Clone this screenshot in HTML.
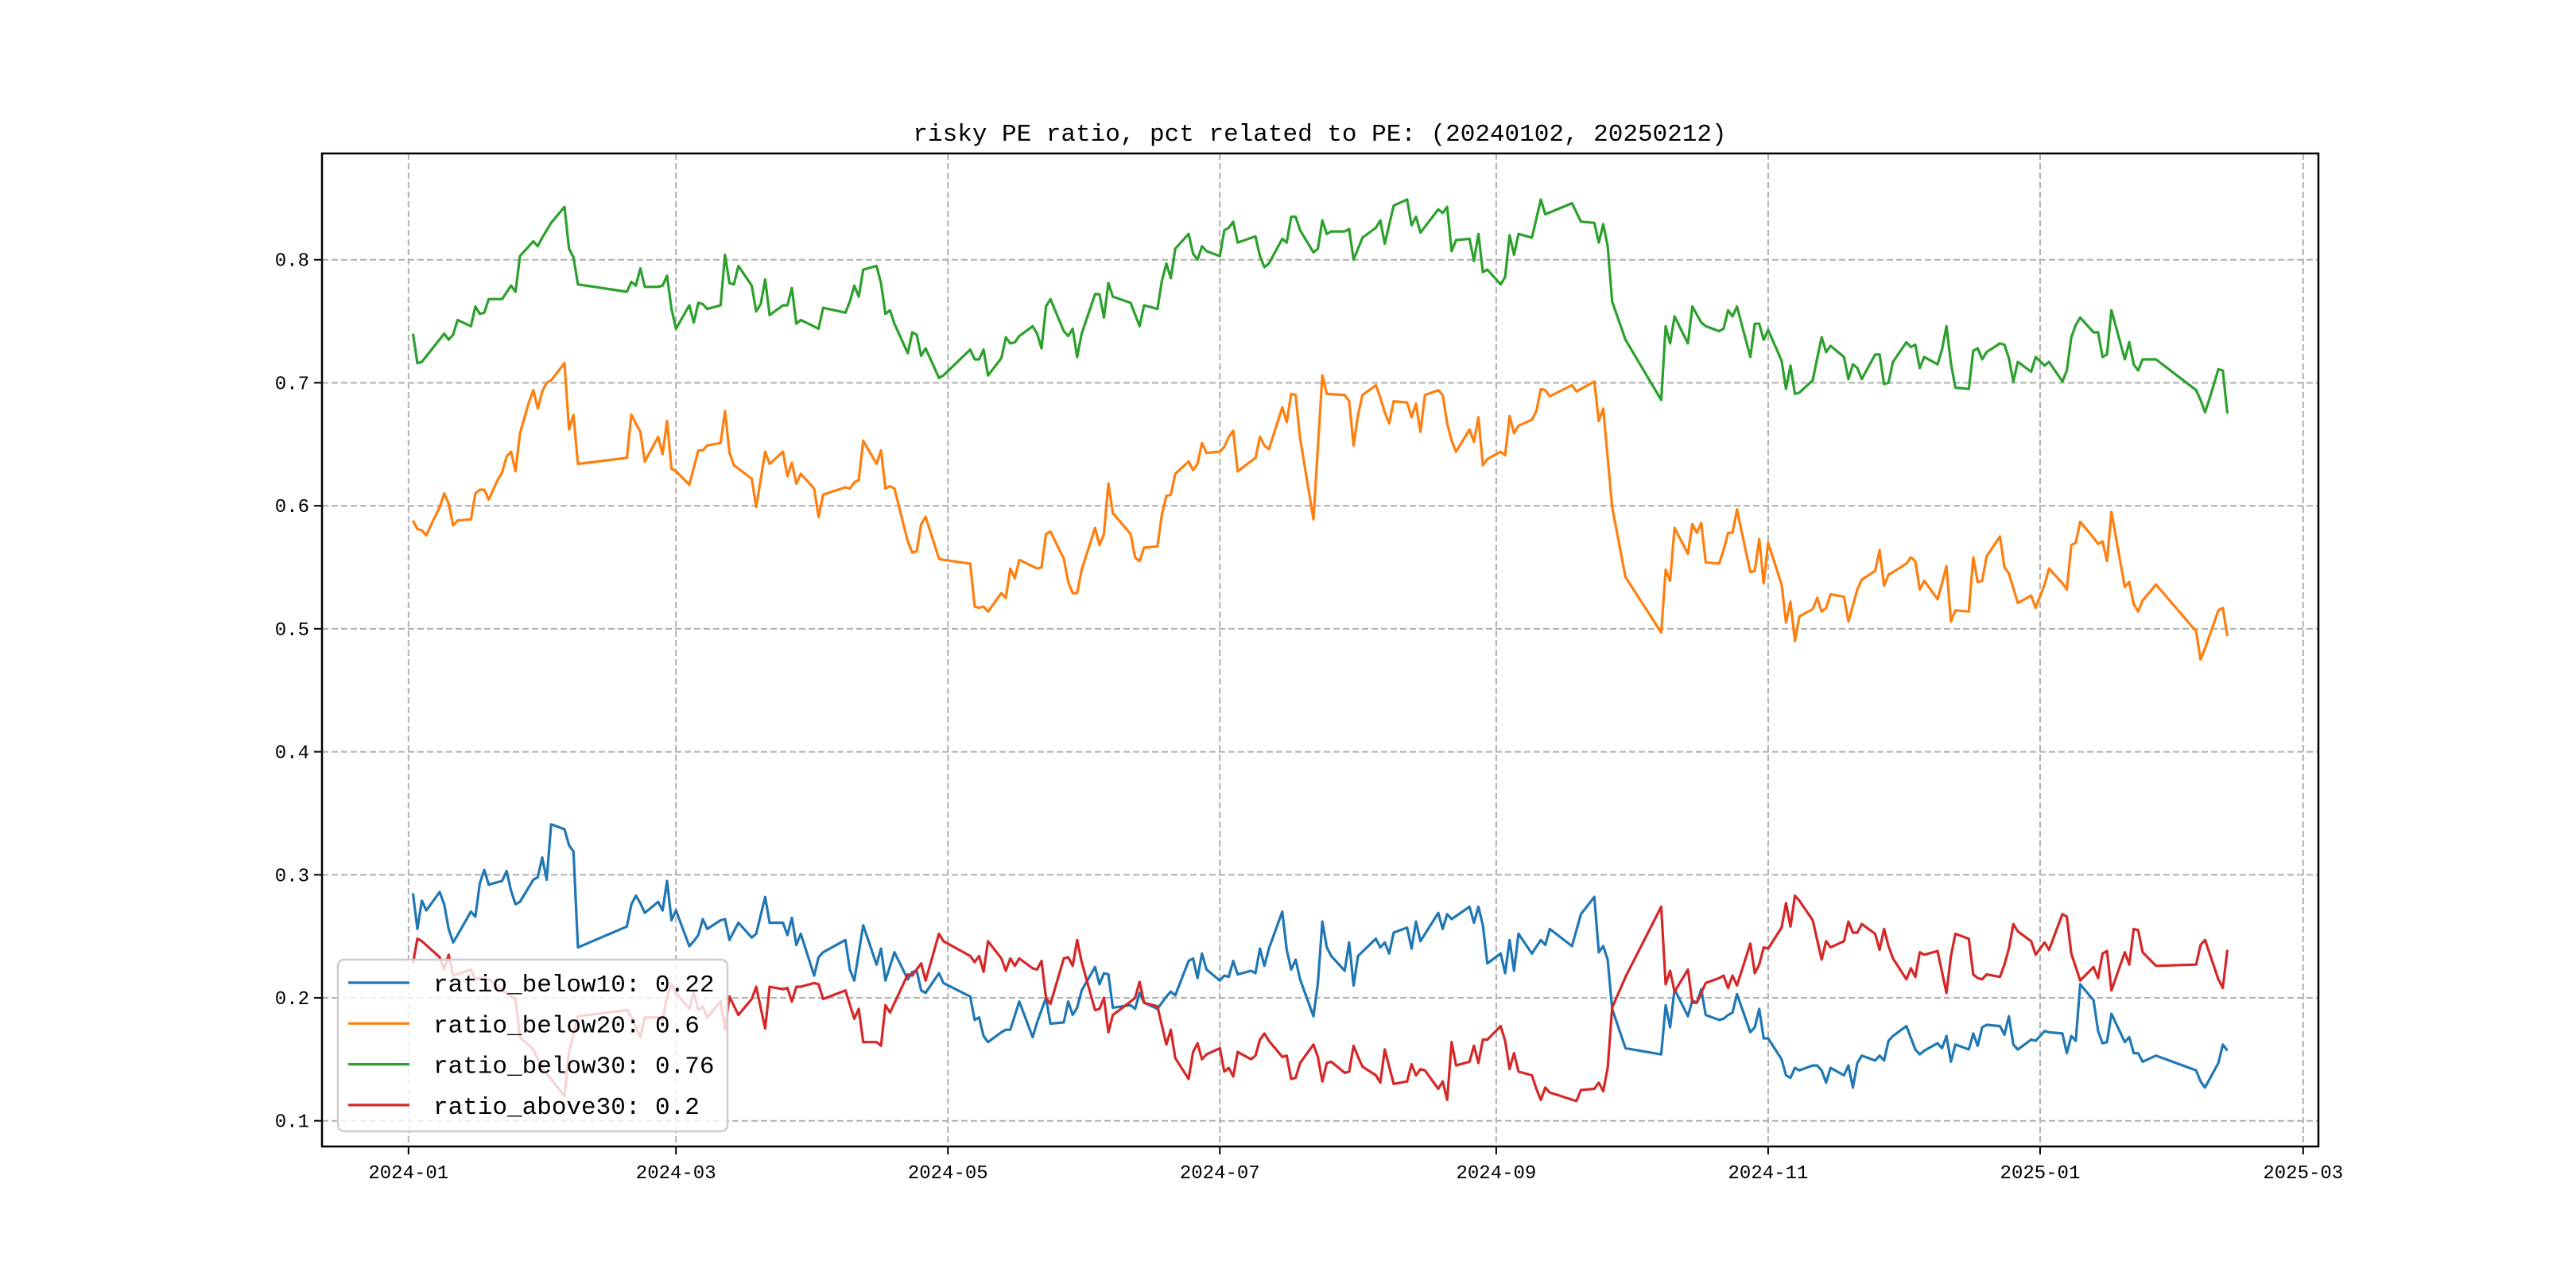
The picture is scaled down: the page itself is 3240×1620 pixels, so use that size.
<!DOCTYPE html>
<html><head><meta charset="utf-8"><style>
html,body{margin:0;padding:0;background:#fff;}
svg{display:block;}
text{font-family:"Liberation Mono","Noto Sans CJK SC",monospace;fill:#000;}
</style></head>
<body>
<svg id="chart" width="3240" height="1620" viewBox="0 0 3240 1620" xmlns="http://www.w3.org/2000/svg">
<rect width="3240" height="1620" fill="#fff"/>
<text x="1660" y="177" font-size="31" text-anchor="middle">risky PE ratio, pct related to PE: (20240102, 20250212)</text>
<g id="grid"></g>
<g id="series"></g>
<rect x="405" y="193" width="2511" height="1249" fill="none" stroke="#000" stroke-width="2.5"/>
<g id="ticks"></g>
<g id="legend"></g>
</svg>
<script>
// data: days since 2024-01-01
const xTickDays = [0,60,121,182,244,305,366,425];
const xTickLabels = ["2024-01","2024-03","2024-05","2024-07","2024-09","2024-11","2025-01","2025-03"];
const yTicks = [0.1,0.2,0.3,0.4,0.5,0.6,0.7,0.8];
const yTickLabels = ["0.1","0.2","0.3","0.4","0.5","0.6","0.7","0.8"];

const below30Days = [1,2,3,8,9,10,11,14,15,16,17,18,21,23,24,25,28,29,30,32,35,36,37,38,49,50,51,52,53,56,57,58,59,60,63,64,65,66,67,70,71,72,73,74,77,78,79,80,81,84,85,86,87,88,92,93,98,99,100,101,102,105,106,107,108,109,112,113,114,115,116,119,120,126,127,128,129,
130,133,134,135,136,137,140,141,142,143,144,147,148,149,150,151,154,155,156,157,158,162,164,165,168,169,170,171,172,175,176,177,178,179,182,183,184,185,186,190,191,192,193,196,197,198,199,200,203,204,205,206,207,210,211,212,214,217,218,219,221,224,225,226,227,231,232,233,234,235,238,239,240,241,242,245,246,247,248,249,252,254,255,261,263,266,267,268,269,270,273,
281,282,283,284,287,288,290,291,294,295,296,297,298,301,302,303,304,305,308,309,310,311,312,315,316,317,318,319,322,323,324,325,326,329,330,331,332,333,336,337,338,339,340,343,344,345,346,347,350,351,352,353,354,357,358,359,360,361,364,365,367,368,371,372,373,374,375,378,379,380,381,382,385,386,387,388,389,392,401,402,403,404,406,407,408];
const below30Vals = [0.740,0.716,0.717,0.740,0.735,0.739,0.751,0.746,0.762,0.756,0.757,0.768,0.768,0.779,0.774,0.803,0.815,0.811,0.818,0.830,0.843,0.809,0.802,0.780,0.774,0.782,0.779,0.793,0.778,0.778,0.779,0.787,0.760,0.744,0.763,0.749,0.765,0.764,0.760,0.763,0.804,0.781,0.780,0.795,0.779,0.758,0.764,0.784,0.755,0.763,0.763,0.777,0.748,0.751,0.744,0.761,0.757,0.766,0.779,0.770,0.792,0.795,0.781,0.756,0.759,0.748,0.724,0.741,0.739,0.722,0.728,0.704,0.706,0.727,0.719,0.719,0.727,
0.706,0.720,0.737,0.732,0.733,0.738,0.746,0.740,0.728,0.762,0.768,0.742,0.738,0.744,0.721,0.740,0.772,0.772,0.753,0.781,0.770,0.765,0.746,0.763,0.760,0.783,0.797,0.785,0.809,0.821,0.805,0.800,0.811,0.807,0.803,0.824,0.826,0.831,0.814,0.819,0.803,0.794,0.797,0.817,0.814,0.835,0.835,0.824,0.806,0.809,0.832,0.821,0.823,0.823,0.825,0.800,0.818,0.826,0.832,0.813,0.844,0.849,0.828,0.835,0.822,0.841,0.838,0.843,0.807,0.816,0.817,0.799,0.821,0.790,0.792,0.780,0.786,0.820,0.804,0.821,0.818,0.849,0.837,0.846,0.831,0.830,0.814,0.829,0.811,0.766,0.735,
0.686,0.746,0.732,0.754,0.732,0.762,0.749,0.746,0.742,0.744,0.759,0.754,0.762,0.721,0.748,0.748,0.735,0.743,0.718,0.695,0.714,0.691,0.692,0.702,0.720,0.737,0.725,0.730,0.721,0.703,0.715,0.712,0.703,0.723,0.723,0.699,0.700,0.717,0.733,0.729,0.731,0.712,0.721,0.715,0.727,0.746,0.716,0.696,0.695,0.726,0.728,0.719,0.725,0.732,0.731,0.720,0.701,0.717,0.709,0.721,0.714,0.717,0.701,0.710,0.737,0.747,0.753,0.741,0.741,0.721,0.723,0.759,0.719,0.733,0.715,0.710,0.719,0.719,0.694,0.686,0.676,0.687,0.711,0.710,0.675];

const below20Days = [1,2,3,4,5,7,8,9,10,11,14,15,16,17,18,20,21,22,23,24,25,27,28,29,30,31,32,35,36,37,38,49,50,52,53,56,57,58,59,60,63,65,66,67,70,71,72,73,77,78,80,81,84,85,86,87,88,91,92,93,98,99,100,101,102,105,106,107,108,109,112,113,114,115,116,119,120,126,127,128,129,
130,133,134,135,136,137,141,142,143,144,147,148,149,150,151,154,155,156,157,158,162,163,164,165,168,169,170,171,172,175,176,177,178,179,182,183,184,185,186,190,191,192,193,196,197,198,199,200,203,205,206,210,211,212,213,214,217,218,219,220,221,224,225,226,227,228,231,232,233,234,235,238,239,240,241,242,245,246,247,248,249,252,253,254,255,256,261,262,266,267,268,270,273,
281,282,283,284,287,288,289,290,291,294,295,296,297,298,301,302,303,304,305,308,309,310,311,312,315,316,317,318,319,322,323,325,326,329,330,331,332,333,336,337,338,339,340,343,344,345,346,347,350,351,352,353,354,357,358,359,361,364,365,367,368,371,372,373,374,375,378,379,380,381,382,385,386,387,388,389,392,401,402,403,406,407,408];
const below20Vals = [0.588,0.581,0.580,0.576,0.584,0.599,0.610,0.602,0.584,0.588,0.589,0.610,0.613,0.613,0.605,0.621,0.627,0.640,0.644,0.628,0.659,0.684,0.694,0.679,0.693,0.700,0.702,0.716,0.662,0.674,0.634,0.639,0.674,0.660,0.636,0.656,0.642,0.669,0.630,0.628,0.617,0.645,0.645,0.649,0.651,0.677,0.643,0.633,0.622,0.599,0.644,0.634,0.644,0.624,0.635,0.618,0.626,0.614,0.591,0.609,0.615,0.614,0.619,0.621,0.653,0.634,0.645,0.614,0.616,0.614,0.571,0.562,0.563,0.585,0.591,0.557,0.556,0.553,0.518,0.517,0.518,
0.514,0.529,0.525,0.549,0.541,0.556,0.549,0.550,0.577,0.579,0.557,0.538,0.529,0.529,0.548,0.582,0.568,0.577,0.618,0.594,0.577,0.558,0.555,0.566,0.567,0.593,0.608,0.609,0.626,0.636,0.629,0.634,0.651,0.643,0.644,0.648,0.656,0.661,0.628,0.639,0.656,0.649,0.646,0.680,0.668,0.691,0.690,0.655,0.589,0.706,0.691,0.690,0.685,0.649,0.674,0.690,0.698,0.688,0.676,0.667,0.685,0.684,0.672,0.683,0.660,0.690,0.694,0.690,0.667,0.653,0.644,0.662,0.652,0.672,0.633,0.638,0.644,0.641,0.673,0.659,0.665,0.670,0.677,0.695,0.694,0.689,0.698,0.693,0.701,0.669,0.679,0.599,0.542,
0.497,0.548,0.539,0.582,0.561,0.585,0.578,0.586,0.554,0.553,0.564,0.578,0.578,0.597,0.546,0.547,0.573,0.537,0.570,0.536,0.505,0.522,0.490,0.510,0.516,0.525,0.514,0.517,0.528,0.526,0.506,0.532,0.540,0.547,0.564,0.535,0.544,0.546,0.553,0.558,0.555,0.532,0.539,0.524,0.537,0.551,0.506,0.515,0.514,0.558,0.538,0.539,0.559,0.575,0.550,0.545,0.521,0.527,0.517,0.536,0.549,0.537,0.532,0.568,0.570,0.587,0.574,0.569,0.571,0.555,0.595,0.534,0.538,0.520,0.514,0.523,0.536,0.498,0.475,0.484,0.515,0.517,0.494];

const below10Days = [1,2,3,4,7,8,9,10,11,14,15,16,17,18,21,22,23,24,25,28,29,30,31,32,35,36,37,38,49,50,51,52,53,56,57,58,59,60,63,64,65,66,67,70,71,72,74,77,78,80,81,84,85,86,87,88,91,92,93,98,99,100,102,105,106,107,109,112,113,114,115,116,119,120,126,127,128,129,
130,133,134,135,137,140,141,143,144,147,148,149,150,151,154,155,156,157,158,162,163,164,165,168,170,171,172,175,176,177,178,179,182,183,184,185,186,189,190,191,192,193,196,197,198,199,200,203,204,205,206,207,210,211,212,213,217,218,219,220,221,224,225,226,227,231,232,233,234,238,239,240,241,242,245,246,247,248,249,252,254,255,256,261,263,266,267,268,269,270,273,
281,282,283,284,287,288,289,290,291,294,295,296,297,298,301,302,303,304,305,308,309,310,311,312,315,316,317,318,319,322,323,324,325,326,329,330,331,332,333,336,338,339,340,343,344,345,346,347,350,351,352,353,354,357,358,359,360,361,364,365,367,368,371,372,373,374,375,378,379,380,381,382,385,386,387,388,389,392,401,402,403,406,407,408];
const below10Vals = [0.285,0.256,0.279,0.271,0.286,0.276,0.256,0.245,0.251,0.270,0.266,0.293,0.304,0.292,0.295,0.303,0.287,0.276,0.278,0.296,0.298,0.314,0.296,0.341,0.337,0.324,0.319,0.241,0.258,0.276,0.283,0.277,0.269,0.278,0.271,0.295,0.263,0.271,0.242,0.246,0.251,0.264,0.256,0.263,0.264,0.247,0.261,0.249,0.252,0.282,0.261,0.261,0.251,0.265,0.243,0.252,0.218,0.233,0.237,0.247,0.223,0.214,0.259,0.227,0.240,0.214,0.237,0.215,0.221,0.222,0.206,0.204,0.220,0.212,0.201,0.182,0.184,0.169,
0.164,0.172,0.174,0.174,0.197,0.168,0.180,0.200,0.179,0.180,0.197,0.186,0.192,0.206,0.225,0.211,0.220,0.219,0.192,0.194,0.191,0.204,0.196,0.191,0.201,0.205,0.202,0.230,0.232,0.216,0.236,0.223,0.214,0.218,0.217,0.230,0.219,0.222,0.220,0.240,0.226,0.240,0.270,0.239,0.223,0.231,0.215,0.185,0.212,0.262,0.241,0.234,0.222,0.245,0.210,0.234,0.248,0.241,0.245,0.236,0.253,0.257,0.240,0.262,0.246,0.269,0.256,0.268,0.264,0.274,0.261,0.274,0.259,0.228,0.236,0.220,0.247,0.222,0.252,0.236,0.247,0.243,0.256,0.242,0.268,0.282,0.237,0.242,0.231,0.191,0.159,
0.154,0.194,0.176,0.207,0.185,0.198,0.196,0.207,0.186,0.182,0.183,0.186,0.188,0.203,0.172,0.176,0.191,0.167,0.167,0.150,0.137,0.135,0.143,0.141,0.145,0.145,0.141,0.131,0.143,0.137,0.145,0.127,0.147,0.153,0.149,0.153,0.149,0.165,0.169,0.177,0.158,0.154,0.157,0.163,0.159,0.169,0.148,0.162,0.158,0.171,0.161,0.176,0.178,0.177,0.170,0.185,0.162,0.158,0.166,0.165,0.173,0.172,0.171,0.155,0.169,0.165,0.211,0.198,0.173,0.163,0.164,0.187,0.164,0.168,0.155,0.155,0.148,0.153,0.141,0.132,0.127,0.147,0.162,0.157];

const above30Days = [1,2,3,7,8,9,10,14,15,16,18,21,24,25,28,30,35,36,37,38,49,50,52,53,56,57,58,59,60,63,64,65,66,67,70,71,72,74,77,78,80,81,84,85,86,87,88,91,92,93,98,100,101,102,105,106,107,108,112,113,115,116,119,120,126,127,128,129,
130,133,134,135,136,137,140,141,142,143,144,147,148,149,150,151,154,155,156,157,158,162,163,164,165,168,170,171,172,175,176,177,178,179,182,183,184,185,186,189,190,191,192,193,196,197,198,199,200,203,204,205,206,207,210,211,212,213,214,217,218,219,221,224,225,226,227,228,231,232,233,234,235,238,239,240,241,242,245,246,247,248,249,252,253,254,255,256,262,263,266,267,268,269,270,273,
281,282,283,284,287,288,289,291,294,295,296,297,298,301,302,303,304,305,308,309,310,311,312,315,316,317,318,319,322,323,324,325,326,329,330,331,332,333,336,337,338,339,340,343,344,345,346,347,350,351,352,353,354,357,358,359,360,361,364,365,367,368,371,372,373,374,375,378,379,380,381,382,385,386,387,388,389,392,401,402,403,406,407,408];
const above30Vals = [0.228,0.248,0.246,0.233,0.223,0.235,0.218,0.223,0.215,0.216,0.215,0.206,0.199,0.168,0.158,0.143,0.120,0.156,0.170,0.185,0.190,0.184,0.168,0.184,0.184,0.182,0.201,0.211,0.204,0.191,0.204,0.190,0.193,0.184,0.197,0.174,0.201,0.186,0.199,0.209,0.175,0.209,0.207,0.208,0.197,0.209,0.209,0.212,0.211,0.199,0.206,0.183,0.191,0.164,0.164,0.161,0.194,0.188,0.219,0.218,0.228,0.214,0.252,0.246,0.234,0.229,0.234,0.221,
0.246,0.232,0.222,0.232,0.226,0.232,0.224,0.223,0.230,0.200,0.195,0.232,0.233,0.226,0.247,0.229,0.190,0.191,0.200,0.172,0.186,0.197,0.200,0.213,0.196,0.193,0.162,0.174,0.151,0.134,0.156,0.163,0.150,0.154,0.159,0.140,0.143,0.136,0.156,0.150,0.153,0.166,0.171,0.165,0.152,0.153,0.134,0.135,0.147,0.162,0.152,0.132,0.147,0.148,0.139,0.140,0.161,0.152,0.144,0.137,0.131,0.158,0.130,0.132,0.146,0.137,0.142,0.141,0.126,0.132,0.117,0.164,0.145,0.148,0.161,0.147,0.166,0.166,0.177,0.165,0.142,0.155,0.140,0.137,0.126,0.117,0.127,0.123,0.116,0.125,0.126,0.131,0.124,0.143,0.192,0.217,
0.274,0.211,0.222,0.205,0.223,0.196,0.196,0.212,0.216,0.218,0.208,0.218,0.210,0.244,0.220,0.227,0.241,0.240,0.257,0.277,0.258,0.283,0.279,0.263,0.247,0.231,0.246,0.241,0.246,0.262,0.253,0.253,0.260,0.252,0.239,0.256,0.242,0.232,0.215,0.224,0.217,0.237,0.235,0.238,0.221,0.204,0.234,0.252,0.248,0.219,0.216,0.215,0.219,0.217,0.227,0.240,0.260,0.254,0.246,0.235,0.245,0.239,0.268,0.266,0.236,0.225,0.214,0.225,0.216,0.236,0.238,0.206,0.237,0.227,0.256,0.255,0.237,0.226,0.227,0.243,0.247,0.215,0.208,0.239];

const legendLabels = ["ratio_below10: 0.22","ratio_below20: 0.6","ratio_below30: 0.76","ratio_above30: 0.2"];

const NS = "http://www.w3.org/2000/svg";
const PL = 405, PR = 2916, PT = 193, PB = 1442;
function xScale(d){ return 513.8 + d * 5.607; }
function yScale(v){ return 1409.7 - (v - 0.1) * 1547.1; }
function mk(tag, attrs, parent){
  const e = document.createElementNS(NS, tag);
  for (const k in attrs) e.setAttribute(k, attrs[k]);
  parent.appendChild(e);
  return e;
}
const grid = document.getElementById('grid');
const ticks = document.getElementById('ticks');
xTickDays.forEach((d, i) => {
  const x = xScale(d);
  const gl = mk('line', {x1:x, x2:x, y1:PT, y2:PB, stroke:'#b0b0b0', 'stroke-width':2, 'stroke-dasharray':'8,4'}, grid);
  
  
  const tm = mk('line', {x1:x, x2:x, y1:PB, y2:PB + 10, stroke:'#000', 'stroke-width':2}, ticks);
  
  
  const t = mk('text', {x:x, y:PB + 40, 'font-size':24, 'text-anchor':'middle'}, ticks);
  t.textContent = xTickLabels[i];
  
  
});
yTicks.forEach((v, i) => {
  const y = yScale(v);
  const gl = mk('line', {x1:PL, x2:PR, y1:y, y2:y, stroke:'#b0b0b0', 'stroke-width':2, 'stroke-dasharray':'8,4'}, grid);
  
  
  const tm = mk('line', {x1:PL - 10, x2:PL, y1:y, y2:y, stroke:'#000', 'stroke-width':2}, ticks);
  
  
  const t = mk('text', {x:PL - 16, y:y + 8, 'font-size':24, 'text-anchor':'end'}, ticks);
  t.textContent = yTickLabels[i];
  
  
});
const seriesG = document.getElementById('series');
const seriesList = [
  {days: below10Days, vals: below10Vals, color: '#1f77b4', name: 'line-ratio-below10'},
  {days: below20Days, vals: below20Vals, color: '#ff7f0e', name: 'line-ratio-below20'},
  {days: below30Days, vals: below30Vals, color: '#2ca02c', name: 'line-ratio-below30'},
  {days: above30Days, vals: above30Vals, color: '#d62728', name: 'line-ratio-above30'}
];
seriesList.forEach(s => {
  const n = Math.min(s.days.length, s.vals.length);
  let d = '';
  for (let i = 0; i < n; i++) d += (i ? 'L' : 'M') + xScale(s.days[i]).toFixed(1) + ',' + yScale(s.vals[i]).toFixed(1);
  const p = mk('path', {d: d, fill: 'none', stroke: s.color, 'stroke-width': 3.2, 'stroke-linejoin': 'round'}, seriesG);
  
  
});
const lg = document.getElementById('legend');
const box = mk('rect', {x:425, y:1207, width:490, height:216, rx:8, ry:8, fill:'#fff', 'fill-opacity':0.8, stroke:'#cccccc', 'stroke-width':2.5}, lg);


legendLabels.forEach((lab, i) => {
  const y = 1236 + i * 51.3;
  const ln = mk('line', {x1:438, x2:515, y1:y, y2:y, stroke:seriesList[i].color, 'stroke-width':3.2}, lg);
  
  
  const t = mk('text', {x:545, y:y + 11, 'font-size':31}, lg);
  t.textContent = lab;
  
  
});
</script>
</body></html>
